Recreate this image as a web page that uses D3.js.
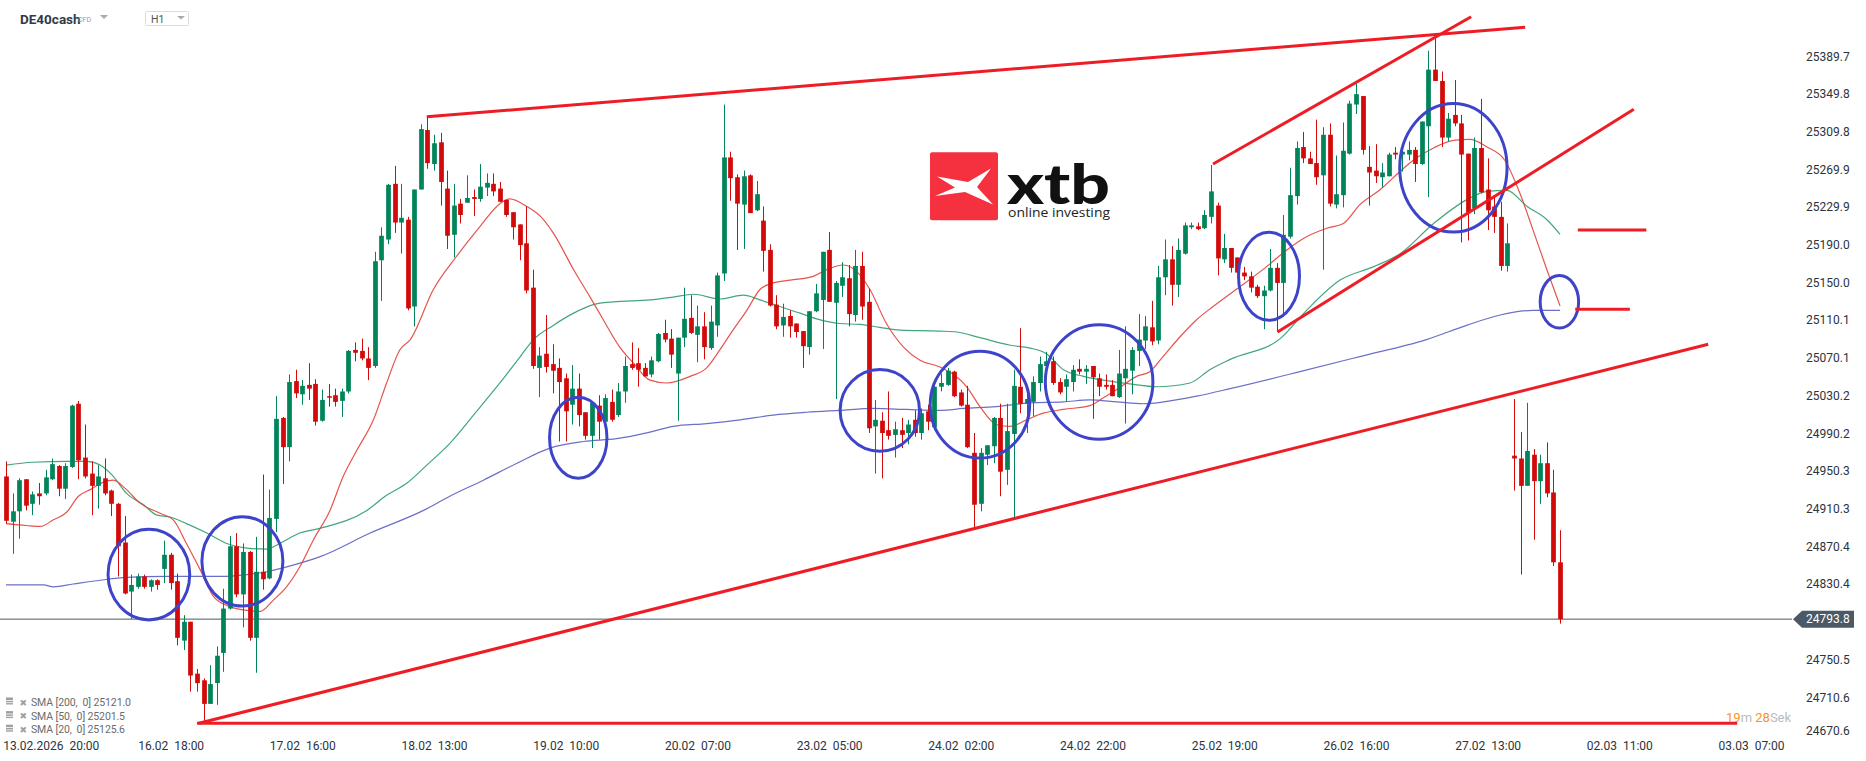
<!DOCTYPE html>
<html>
<head>
<meta charset="utf-8">
<script src="https://cdn.jsdelivr.net/npm/d3@7"></script>
<style>
  body { margin: 0; background: #fff; }
  svg { display: block; font-family: Roboto, "Noto Sans", sans-serif; }
</style>
</head>
<body>
<script>
// hourly candles, DE40cash, [open, high, low, close]
const ohlc = [
  [24945,24961,24895,24898],[24897,24927,24863,24908],[24908,24943,24879,24941],[24942,24942,24909,24914],
  [24916,24929,24904,24926],[24927,24938,24915,24924],[24927,24952,24925,24944],[24942,24964,24941,24958],
  [24956,24957,24924,24932],[24932,24959,24921,24956],[24955,25021,24954,25020],[25022,25025,24942,24962],
  [24965,25000,24943,24945],[24948,24961,24904,24935],[24935,24957,24911,24945],[24943,24964,24925,24927],
  [24930,24931,24903,24916],[24916,24917,24839,24871],[24875,24903,24820,24821],[24823,24841,24794,24830],
  [24828,24842,24826,24839],[24839,24841,24826,24828],[24828,24836,24823,24835],[24835,24836,24825,24830],
  [24847,24877,24832,24862],[24862,24864,24825,24832],[24834,24842,24766,24774],[24771,24798,24761,24791],
  [24791,24791,24717,24734],[24736,24741,24717,24726],[24729,24731,24685,24704],[24704,24745,24704,24725],
  [24726,24765,24703,24755],[24758,24826,24738,24805],[24805,24882,24804,24871],[24871,24885,24817,24820],
  [24820,24874,24785,24865],[24865,24866,24771,24774],[24774,24881,24737,24844],[24844,24947,24825,24836],
  [24837,24931,24836,24901],[24900,25030,24886,25006],[25007,25008,24937,24976],[24976,25053,24961,25045],
  [25046,25058,25028,25033],[25032,25047,25021,25041],[25042,25065,25026,25038],[25043,25048,24999,25003],
  [25004,25037,25003,25026],[25030,25043,25019,25029],[25031,25038,25019,25024],[25025,25038,25008,25035],
  [25035,25079,25033,25078],[25079,25087,25067,25076],[25078,25091,25068,25070],[25070,25082,25047,25060],
  [25062,25183,25060,25173],[25174,25209,25131,25200],[25196,25255,25191,25254],[25255,25274,25203,25214],
  [25214,25255,25181,25219],[25217,25220,25121,25123],[25125,25249,25104,25249],[25249,25318,25249,25313],
  [25312,25326,25271,25277],[25276,25307,25269,25298],[25299,25309,25232,25257],[25250,25269,25186,25200],
  [25201,25255,25177,25232],[25234,25239,25213,25222],[25235,25264,25235,25240],[25241,25249,25221,25239],
  [25239,25276,25236,25252],[25251,25266,25242,25256],[25255,25266,25242,25247],[25250,25257,25236,25236],
  [25238,25238,25220,25222],[25225,25225,25196,25209],[25212,25212,25174,25190],[25192,25231,25139,25142],
  [25145,25164,25059,25062],[25060,25082,25029,25073],[25075,25116,25055,25061],[25064,25085,25033,25057],
  [25060,25070,24982,25045],[25049,25054,24982,25014],[25021,25063,25000,25038],[25038,25054,24998,25010],
  [25013,25013,24984,24988],[24988,25023,24975,25023],[25020,25031,24984,25003],[25003,25032,25002,25028],
  [25024,25037,25003,25005],[25010,25044,25008,25035],[25035,25072,25023,25062],[25064,25087,25058,25060],
  [25065,25081,25040,25058],[25060,25065,25051,25051],[25053,25072,25050,25068],[25067,25097,25066,25096],
  [25097,25111,25087,25090],[25091,25101,25060,25074],[25054,25092,25004,25092],[25092,25145,25082,25112],
  [25113,25137,25096,25097],[25095,25126,25066,25104],[25104,25119,25069,25082],[25081,25126,25079,25109],
  [25105,25161,25093,25158],[25160,25339,25152,25283],[25283,25289,25237,25261],[25262,25265,25185,25234],
  [25233,25269,25186,25263],[25264,25265,25224,25224],[25227,25258,25226,25244],[25216,25231,25162,25184],
  [25185,25191,25125,25126],[25127,25137,25101,25104],[25105,25128,25093,25114],[25115,25121,25092,25104],
  [25107,25107,25092,25098],[25099,25099,25060,25083],[25082,25120,25074,25120],[25120,25149,25119,25139],
  [25132,25183,25080,25183],[25185,25204,25130,25130],[25129,25152,25027,25150],[25147,25172,25135,25156],
  [25155,25169,25104,25117],[25116,25185,25109,25168],[25168,25183,25111,25125],[25130,25144,24991,24996],
  [24998,25026,24948,25005],[25004,25013,24943,24991],[24994,25035,24984,24988],[24989,25003,24965,24995],
  [24994,25007,24975,24989],[24991,25005,24979,25000],[25005,25015,24987,24991],[24991,25017,24984,25012],
  [25014,25021,24994,25003],[24997,25047,24994,25040],[25040,25054,25035,25044],[25042,25060,25041,25057],
  [25056,25057,25029,25030],[25034,25037,25019,25020],[25021,25041,24975,24976],[24970,24991,24890,24915],
  [24916,24975,24908,24970],[24968,24978,24957,24978],[24977,25008,24959,25007],[25007,25022,24924,24950],
  [24952,25022,24936,24993],[24990,25058,24902,25041],[25040,25102,25012,25022],[25022,25034,24991,25027],
  [25024,25051,25009,25045],[25044,25072,25035,25064],[25062,25077,25049,25067],[25067,25072,25042,25044],
  [25045,25049,25032,25034],[25040,25053,25024,25048],[25045,25063,25035,25058],[25059,25069,25053,25056],
  [25056,25063,25043,25059],[25062,25062,25006,25050],[25049,25054,25030,25040],[25042,25053,25037,25040],
  [25042,25047,25030,25030],[25029,25079,25028,25054],[25049,25104,25001,25059],[25057,25082,25032,25079],
  [25078,25117,25062,25090],[25089,25115,25080,25104],[25103,25131,25084,25088],[25089,25168,25085,25156],
  [25156,25196,25137,25175],[25175,25189,25126,25148],[25148,25197,25135,25185],[25181,25214,25180,25211],
  [25209,25214,25207,25211],[25210,25214,25206,25207],[25208,25227,25207,25222],[25220,25275,25213,25247],
  [25232,25235,25158,25176],[25175,25202,25171,25187],[25187,25187,25161,25166],[25177,25177,25160,25161],
  [25161,25167,25153,25157],[25157,25162,25140,25145],[25146,25148,25134,25136],[25136,25147,25101,25142],
  [25142,25186,25141,25166],[25166,25171,25098,25150],[25150,25222,25114,25201],[25199,25272,25197,25243],
  [25242,25300,25233,25293],[25294,25310,25277,25282],[25282,25289,25276,25276],[25277,25323,25254,25262],
  [25264,25315,25164,25307],[25307,25319,25231,25234],[25233,25285,25229,25244],[25243,25320,25230,25290],
  [25287,25343,25286,25340],[25339,25361,25329,25350],[25348,25348,25286,25291],[25273,25295,25232,25267],
  [25269,25297,25256,25263],[25262,25277,25251,25267],[25263,25288,25263,25286],[25288,25294,25281,25286],
  [25286,25296,25268,25289],[25286,25300,25280,25291],[25291,25294,25257,25276],[25276,25321,25275,25321],
  [25316,25396,25241,25376],[25376,25413,25364,25364],[25364,25374,25294,25304],[25304,25330,25300,25324],
  [25328,25365,25316,25319],[25319,25328,25193,25286],[25287,25287,25195,25224],[25229,25304,25223,25293],
  [25293,25345,25245,25246],[25249,25282,25206,25227],[25231,25241,25203,25220],[25220,25236,25163,25168],
  [25168,25213,25162,25192],[24967,25027,24930,24964],[24964,24992,24841,24935],[24935,25023,24935,24972],
  [24968,24974,24878,24940],[24940,24968,24916,24959],[24959,24981,24923,24927],[24928,24952,24850,24854],
  [24854,24888,24789,24793.8]
];
const lastPrice = 24793.8;

// moving averages, [bar index, value]
const sma20 = [[0,24895],[3.1,24893],[5.2,24892],[7.2,24899],[9.2,24907],[11,24924],[12.8,24931],[14.8,24939],
  [16.3,24941],[18.3,24931],[20.3,24917],[23.4,24906],[25.4,24899],[27.4,24874],[29.5,24846],[31.5,24818],
  [34,24807],[36.6,24803],[38.6,24802],[40.6,24814],[42.6,24828],[44.6,24849],[46.7,24878],[49.2,24909],
  [51.2,24945],[53.3,24973],[55.8,25005],[57.8,25044],[59.8,25079],[61.4,25090],[64.9,25143],[68.4,25178],
  [72,25210],[75,25234],[76.5,25239],[79.1,25231],[81.1,25221],[83.1,25203],[86.2,25164],[88.7,25135],
  [90.7,25111],[93.2,25082],[95.3,25065],[97.8,25047],[100.3,25044],[103.9,25051],[106.4,25060],[108.4,25079],
  [110.4,25100],[112.5,25121],[114.5,25143],[116.5,25150],[119.1,25153],[122.6,25157],[124.6,25164],[127.2,25169],
  [129.2,25162],[131.2,25143],[133.7,25107],[136.3,25082],[138.8,25068],[141.8,25061],[145.9,25040],[147.9,25019],
  [150.4,25000],[152.5,24998],[155,25005],[157.5,25012],[160.6,25016],[164.6,25020],[166.6,25028],[168.7,25037],
  [171.7,25051],[173.7,25056],[175.7,25072],[178.3,25093],[180.8,25111],[183.3,25125],[186.4,25141],[191.4,25167],
  [194.5,25185],[197.5,25199],[200.6,25208],[203.1,25213],[205.6,25233],[208.7,25249],[211.7,25268],[213.7,25280],
  [216.8,25293],[219.8,25301],[222.3,25302],[224.9,25294],[227.6,25280],[229.9,25245],[231.9,25206],[234,25164],
  [236,25125.6]];
const sma50 = [[0,24957],[4.1,24960],[9.2,24961],[12.3,24961],[14.3,24957],[16.3,24945],[18.3,24927],[20.9,24915],
  [22.9,24904],[24.9,24902],[27.4,24895],[30.5,24885],[33.5,24874],[36.6,24869],[39.6,24868],[41.6,24874],
  [44.6,24885],[47.7,24890],[54.8,24909],[57.8,24925],[60.9,24938],[63.9,24957],[67.4,24980],[71,25010],
  [75,25044],[78.1,25072],[80.1,25090],[83.1,25105],[86.2,25118],[89.2,25127],[92.2,25130],[97.8,25132],
  [101.3,25135],[104.4,25138],[108.4,25133],[112,25137],[114.5,25132],[117.5,25125],[120.6,25118],[123.1,25112],
  [126.6,25107],[129.7,25106],[132.7,25103],[135.8,25100],[141.8,25099],[144.4,25098],[147.9,25092],[152.5,25084],
  [155.5,25081],[158,25075],[160.6,25058],[163.6,25051],[166.6,25047],[170.7,25043],[174.7,25040],[179.8,25044],
  [182.8,25058],[185.9,25069],[193.5,25091],[197.5,25121],[202.6,25153],[207.6,25167],[211.7,25181],[216.8,25213],
  [221.8,25238],[224.9,25247],[227.9,25248],[231,25231],[234,25217],[236,25201.5]];
const sma200 = [[0,24830],[5.7,24830],[7.2,24828],[10.2,24831],[14.3,24835],[18.3,24838],[24.4,24839],[32.5,24839],
  [36.6,24841],[39.6,24844],[43.6,24851],[47.7,24860],[55.3,24885],[63.4,24909],[67.4,24924],[72.5,24941],
  [77.6,24959],[82.6,24975],[87.7,24982],[92.7,24985],[97.8,24992],[101.3,24998],[106.4,25001],[111.5,25005],
  [116.5,25010],[121.6,25013],[126.6,25015],[131.7,25017],[136.8,25016],[141.8,25015],[145.4,25017],[150.4,25019],
  [155.5,25023],[160.6,25024],[164.6,25026],[168.7,25024],[172.7,25022],[175.8,25024],[180.8,25030],[185.9,25038],
  [196.5,25056],[205.6,25072],[215.7,25090],[221.8,25105],[226.9,25116],[231.9,25121],[236,25121.0]];

const legendRows = ["SMA [200,  0] 25121.0", "SMA [50,  0] 25201.5", "SMA [20,  0] 25125.6"];

// drawn annotations in chart coords: [bar index, price]
const redLines = [
  [[63.9, 25326], [230.7, 25421]],
  [[183.3, 25276], [222.5, 25432]],
  [[193.1, 25098], [247.2, 25334]],
  [[29.3, 24683.5], [258.5, 25085]],
  [[29.0, 24683.5], [262.9, 24683.5]],
  [[238.7, 25206], [249.1, 25206]],
  [[238.3, 25122], [246.6, 25122]]
];
// [bar index, price, half width in bars, half height in points]
const blueRings = [
  [21.7, 24841, 6.2, 48], [35.9, 24855, 6.15, 47.4], [86.9, 24986, 4.36, 42.9],
  [132.7, 25015, 6.03, 43.2], [147.9, 25021, 7.55, 56.5], [166.0, 25045, 8.17, 60.6],
  [191.8, 25157, 4.63, 46.6], [219.8, 25272, 8.15, 68.1], [235.9, 25130, 2.92, 27.8]
];

const yTicks = [25389.7, 25349.8, 25309.8, 25269.9, 25229.9, 25190.0, 25150.0, 25110.1, 25070.1, 25030.2,
  24990.2, 24950.3, 24910.3, 24870.4, 24830.4, 24750.5, 24710.6, 24670.6];
const xTickIdx = [0, 25, 45, 65, 85, 105, 125, 145, 165, 185, 205, 225, 245, 265];
const xTickLabels = ["13.02.2026  20:00", "16.02  18:00", "17.02  16:00", "18.02  13:00", "19.02  10:00",
  "20.02  07:00", "23.02  05:00", "24.02  02:00", "24.02  22:00", "25.02  19:00", "26.02  16:00",
  "27.02  13:00", "02.03  11:00", "03.03  07:00"];

const canvWidth = 1866, canvHeight = 761;
const upColor = "#02845a", downColor = "#d20a0a";

const svg = d3.select("body").append("svg")
    .attr("width", canvWidth)
    .attr("height", canvHeight);

svg.append("rect").attr("width", canvWidth).attr("height", canvHeight).attr("fill", "#fff");

// scales: x is bar index, y is price
const xScale = d3.scaleLinear().domain([0, 271]).range([6, 6 + 271 * 6.585]);
const yScale = d3.scaleLinear().domain([24750.5, 25389.7]).range([660, 56.7]);
const step = xScale(1) - xScale(0);

svg.append("clipPath").attr("id", "plot-clip")
  .append("rect").attr("x", 0).attr("y", 0).attr("width", 1792).attr("height", 738);

const g = svg.append("g").attr("clip-path", "url(#plot-clip)");

// last price line
g.append("line")
    .attr("x1", 0).attr("x2", 1800)
    .attr("y1", yScale(lastPrice)).attr("y2", yScale(lastPrice))
    .attr("stroke", "#4c5966").attr("stroke-width", 1);

// moving averages
const maLine = d3.line().x(d => xScale(d[0])).y(d => yScale(d[1])).curve(d3.curveMonotoneX);
[[sma200, "#5b5fc2"], [sma50, "#2e9c6c"], [sma20, "#e2413a"]].forEach(([data, col]) => {
  g.append("path").datum(data)
      .attr("d", maLine)
      .attr("fill", "none")
      .attr("stroke", col)
      .attr("stroke-opacity", 0.9)
      .attr("stroke-width", 1.2);
});

// candles
const candles = g.append("g").selectAll("g").data(ohlc).enter().append("g");
candles.append("line")
    .attr("x1", (d, i) => Math.round(xScale(i)) + 0.5)
    .attr("x2", (d, i) => Math.round(xScale(i)) + 0.5)
    .attr("y1", d => yScale(d[1]))
    .attr("y2", d => yScale(d[2]))
    .attr("stroke", d => d[3] >= d[0] ? upColor : downColor)
    .attr("stroke-width", 1);
candles.append("rect")
    .attr("x", (d, i) => Math.round(xScale(i)) + 0.5 - step * 0.36)
    .attr("width", step * 0.72)
    .attr("y", d => yScale(Math.max(d[0], d[3])))
    .attr("height", d => Math.max(1.5, Math.abs(yScale(d[0]) - yScale(d[3]))))
    .attr("fill", d => d[3] >= d[0] ? upColor : downColor);

// blue rings
g.selectAll(".ring").data(blueRings).enter().append("ellipse")
    .attr("class", "ring")
    .attr("cx", d => xScale(d[0]))
    .attr("cy", d => yScale(d[1]))
    .attr("rx", d => d[2] * step)
    .attr("ry", d => yScale(0) - yScale(d[3]))
    .attr("fill", "none")
    .attr("stroke", "#3d44c9")
    .attr("stroke-width", 3);

// red trend lines
g.selectAll(".trend").data(redLines).enter().append("line")
    .attr("class", "trend")
    .attr("x1", d => xScale(d[0][0])).attr("y1", d => yScale(d[0][1]))
    .attr("x2", d => xScale(d[1][0])).attr("y2", d => yScale(d[1][1]))
    .attr("stroke", "#ee1c25")
    .attr("stroke-width", 3);

// price axis
const yAxis = d3.axisRight(yScale).tickValues(yTicks).tickFormat(d => d.toFixed(1)).tickSize(0).tickPadding(0);
const yAx = svg.append("g").attr("transform", "translate(1806,0)").call(yAxis);
yAx.select(".domain").remove();
yAx.selectAll(".tick").attr("transform", d => "translate(0," + Math.min(yScale(d), 731) + ")");
yAx.selectAll("text").attr("fill", "#2b3440").attr("font-size", "12px").attr("font-family", "Roboto");

// last price tag
const ly = yScale(lastPrice);
svg.append("path")
    .attr("d", `M1793,${ly} L1802,${ly - 8.5} L1854,${ly - 8.5} L1854,${ly + 8.5} L1802,${ly + 8.5} Z`)
    .attr("fill", "#4b5966");
svg.append("text").attr("x", 1806).attr("y", ly + 4.3)
    .attr("fill", "#fff").attr("font-size", "12px").text(lastPrice.toFixed(1));

// time axis
const xAxis = d3.axisBottom(xScale).tickValues(xTickIdx).tickFormat((d, i) => xTickLabels[i]).tickSize(0).tickPadding(3);
const xAx = svg.append("g").attr("transform", "translate(0,738)").call(xAxis);
xAx.select(".domain").remove();
xAx.selectAll("text").attr("fill", "#2b3440").attr("font-size", "12px").attr("font-family", "Roboto")
    .style("white-space", "pre")
    .attr("text-anchor", (d, i) => i === 0 ? "start" : "middle")
    .attr("x", (d, i) => i === 0 ? -step / 2 : 0);

// countdown
const cd = svg.append("text").attr("x", 1726).attr("y", 722).attr("font-size", "13px");
cd.append("tspan").attr("fill", "#f7941d").text("19");
cd.append("tspan").attr("fill", "#b8bcc2").text("m ");
cd.append("tspan").attr("fill", "#f7941d").text("28");
cd.append("tspan").attr("fill", "#b8bcc2").text("Sek");

// legend
legendRows.forEach((t, i) => {
  const ly2 = 702 + i * 13.6;
  const lg = svg.append("g").attr("transform", "translate(0," + ly2 + ")");
  lg.append("rect").attr("x", 6).attr("y", -4.5).attr("width", 7).attr("height", 7).attr("fill", "#a0a0a0");
  lg.append("rect").attr("x", 6).attr("y", -2).attr("width", 7).attr("height", 0.8).attr("fill", "#fff");
  lg.append("rect").attr("x", 6).attr("y", 0.3).attr("width", 7).attr("height", 0.8).attr("fill", "#fff");
  lg.append("text").attr("x", 19.5).attr("y", 3.5).attr("font-size", "9px").attr("fill", "#a0a0a0")
      .attr("font-family", "DejaVu Sans").text("\u2716");
  lg.append("text").attr("x", 31).attr("y", 4).attr("font-size", "10.5px").attr("fill", "#6b6b6b")
      .attr("textLength", [100, 94, 94][i]).attr("lengthAdjust", "spacing")
      .style("white-space", "pre").text(t);
});

// header
svg.append("text").attr("x", 20).attr("y", 23.5).attr("font-size", "13.5px").attr("font-weight", "bold")
    .attr("fill", "#2f3b47").text("DE40cash");
svg.append("text").attr("x", 78).attr("y", 22).attr("font-size", "7px").attr("fill", "#999").text("CFD");
svg.append("path").attr("d", "M100,15 L108,15 L104,19 Z").attr("fill", "#aaa");
svg.append("rect").attr("x", 145.5).attr("y", 11.5).attr("width", 43).attr("height", 14)
    .attr("fill", "#fff").attr("stroke", "#dcdcdc").attr("rx", 1);
svg.append("text").attr("x", 151).attr("y", 23).attr("font-size", "10.5px").attr("fill", "#555").text("H1");
svg.append("path").attr("d", "M177,16 L185,16 L181,19.5 Z").attr("fill", "#aaa");

// xtb logo
const logo = svg.append("g");
logo.append("rect").attr("x", 930).attr("y", 152.3).attr("width", 68).attr("height", 68).attr("rx", 2)
    .attr("fill", "#f5313f");
logo.append("path")
    .attr("d", "M937,176.5 L968,182 L991,168.5 L977,187 L993,204.5 L965,192 L935,196 L955,187.5 Z")
    .attr("fill", "#fff");
logo.append("text").attr("x", 1007).attr("y", 203.5).attr("font-size", "55px").attr("font-weight", "900")
    .attr("font-family", "Lato").attr("fill", "#111").attr("textLength", 103).attr("lengthAdjust", "spacingAndGlyphs")
    .text("xtb");
logo.append("text").attr("x", 1008).attr("y", 217).attr("font-size", "13px")
    .attr("font-family", "Open Sans").attr("fill", "#222").attr("textLength", 102)
    .attr("lengthAdjust", "spacingAndGlyphs").text("online investing");
</script>
</body>
</html>
